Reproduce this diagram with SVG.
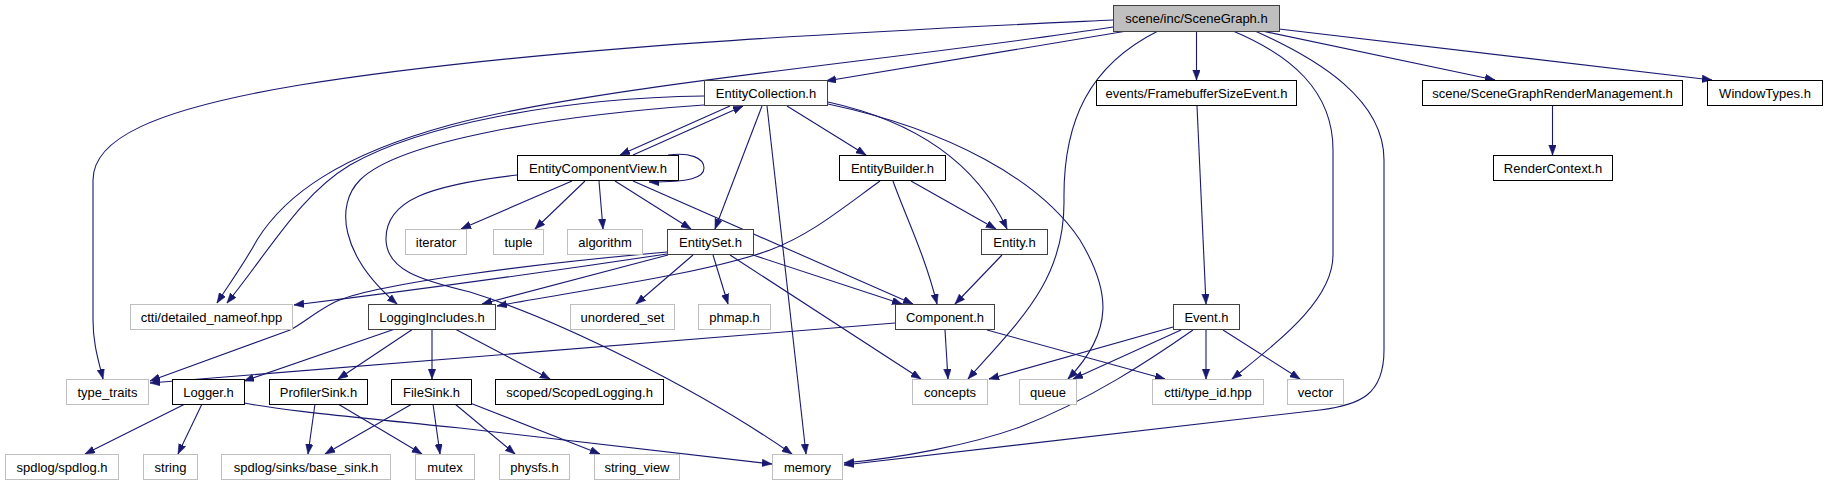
<svg xmlns="http://www.w3.org/2000/svg" width="1827" height="485" viewBox="0 0 1827 485">
<defs>
<style>
.n rect{fill:#fff;stroke:#000;stroke-width:1}
.n.g rect{stroke:#bfbfbf}
.n.d rect{stroke:#404040}
.n.r rect{fill:#bfbfbf;stroke:#404040}
.n text{font-family:"Liberation Sans",Arial,Helvetica,sans-serif;font-size:13px;fill:#000;text-anchor:middle}
#edges path{fill:none;stroke:#191970;stroke-width:1.1;marker-end:url(#ah)}
</style>
<marker id="ah" markerUnits="userSpaceOnUse" markerWidth="11" markerHeight="8" refX="10" refY="3.75" orient="auto">
<path d="M0,0 L10,3.75 L0,7.5 Z" fill="#191970" stroke="#191970" stroke-width="0.5"/>
</marker>
</defs>
<rect width="1827" height="485" fill="#fff"/>
<g id="edges">
<!-- SceneGraph.h -->
<path d="M1113,20 C900,30 550,45 300,85 C150,110 93,140 93,180 L93,320 C93,345 99,362 103,379"/>
<path d="M1113,27 C900,60 600,85 450,125 C340,155 285,195 257,240 C245,262 230,283 217,303"/>
<path d="M1127,31 L826,81"/>
<path d="M1158,31 C1090,65 1063,120 1064,200 C1065,280 1020,320 968,379"/>
<path d="M1196.5,31 L1196.5,80"/>
<path d="M1233,31 C1290,55 1333,90 1333,150 L1333,255 C1333,300 1280,340 1232,379"/>
<path d="M1255,31 C1320,60 1384,100 1384,160 L1384,350 C1384,395 1360,405 1320,410 L844,465"/>
<path d="M1262,31 L1495,80"/>
<path d="M1279,29 L1712,80"/>
<path d="M1197,106 L1206,304"/>
<path d="M1552.5,106 L1552.5,155"/>
<!-- EntityCollection.h -->
<path d="M730,106 L620,155"/>
<path d="M633,155 L743,106"/>
<path d="M762,106 L715,229"/>
<path d="M767,106 L806,454"/>
<path d="M787,106 L866,155"/>
<path d="M828,102 C910,120 975,160 1007,229"/>
<path d="M828,104 C950,130 1040,180 1080,240 C1110,290 1115,330 1068,379"/>
<path d="M704,96 C560,98 420,125 350,165 C300,195 270,250 227,303"/>
<path d="M704,105 C560,115 400,140 360,180 C335,205 340,255 397,304"/>
<!-- EntityComponentView.h -->
<path d="M517,175 C430,185 385,200 386,240 C387,270 420,280 470,292 C560,320 700,390 792,454"/>
<path d="M668,155 C690,152 704,158 704,168 C704,178 690,182 649,182"/>
<path d="M572,181 L461,229"/>
<path d="M585,181 L535,229"/>
<path d="M599,181 L603,229"/>
<path d="M615,181 L691,229"/>
<path d="M633,181 L913,304"/>
<!-- EntityBuilder.h -->
<path d="M911,181 L996,229"/>
<path d="M893,181 C905,215 925,255 937,304"/>
<path d="M880,181 C840,210 810,235 770,250 C700,275 580,290 497,306"/>
<!-- EntitySet.h -->
<path d="M667,252 C520,265 370,285 335,302 C315,312 305,322 290,330 L150,381"/>
<path d="M667,254 C560,270 400,292 294,305"/>
<path d="M668,255 L482,304"/>
<path d="M693,255 L636,304"/>
<path d="M713,255 L728,304"/>
<path d="M753,255 L902,304"/>
<path d="M730,255 L921,379"/>
<!-- Entity.h -->
<path d="M1002,255 L955,304"/>
<!-- Component.h -->
<path d="M895,323 L150,383"/>
<path d="M945,330 L948,379"/>
<path d="M987,330 L1165,379"/>
<!-- Event.h -->
<path d="M1173,327 L989,379"/>
<path d="M1181,330 L1073,379"/>
<path d="M1193,330 C1150,360 1090,400 1020,427 C970,445 900,458 844,463"/>
<path d="M1206,330 L1206,379"/>
<path d="M1223,330 L1300,379"/>
<!-- LoggingIncludes.h -->
<path d="M395,329 L244,381"/>
<path d="M413,329 L338,379"/>
<path d="M432,329 L432,379"/>
<path d="M455,329 L550,379"/>
<!-- Logger.h -->
<path d="M185,404 L85,454"/>
<path d="M202,404 L178,454"/>
<path d="M244,403 C270,408 300,412 460,428 L772,464"/>
<!-- ProfilerSink.h -->
<path d="M315,404 L308,454"/>
<path d="M338,404 L422,454"/>
<!-- FileSink.h -->
<path d="M412,404 L325,454"/>
<path d="M433,404 L440,454"/>
<path d="M455,404 L515,454"/>
<path d="M470,403 L600,454"/>
</g>
<g id="n-scenegraph" class="n r"><rect x="1113.5" y="5.5" width="166" height="26"/><text x="1196.5" y="23">scene/inc/SceneGraph.h</text></g>
<g id="n-entitycollection" class="n d"><rect x="704.5" y="80.5" width="123" height="25"/><text x="766" y="98">EntityCollection.h</text></g>
<g id="n-framebuffer" class="n"><rect x="1096.5" y="80.5" width="200" height="25"/><text x="1196.5" y="98">events/FramebufferSizeEvent.h</text></g>
<g id="n-sgrm" class="n"><rect x="1422.5" y="80.5" width="260" height="25"/><text x="1552.5" y="98">scene/SceneGraphRenderManagement.h</text></g>
<g id="n-windowtypes" class="n"><rect x="1707.5" y="80.5" width="115" height="25"/><text x="1765" y="98">WindowTypes.h</text></g>
<g id="n-ecv" class="n"><rect x="517.5" y="155.5" width="161" height="25"/><text x="598" y="173">EntityComponentView.h</text></g>
<g id="n-entitybuilder" class="n"><rect x="839.5" y="155.5" width="106" height="25"/><text x="892.5" y="173">EntityBuilder.h</text></g>
<g id="n-rendercontext" class="n"><rect x="1493.5" y="155.5" width="119" height="25"/><text x="1553" y="173">RenderContext.h</text></g>
<g id="n-iterator" class="n g"><rect x="405.5" y="229.5" width="61" height="25"/><text x="436" y="247">iterator</text></g>
<g id="n-tuple" class="n g"><rect x="493.5" y="229.5" width="50" height="25"/><text x="518.5" y="247">tuple</text></g>
<g id="n-algorithm" class="n g"><rect x="567.5" y="229.5" width="75" height="25"/><text x="605" y="247">algorithm</text></g>
<g id="n-entityset" class="n d"><rect x="667.5" y="229.5" width="86" height="25"/><text x="710.5" y="247">EntitySet.h</text></g>
<g id="n-entity" class="n d"><rect x="981.5" y="229.5" width="66" height="25"/><text x="1014.5" y="247">Entity.h</text></g>
<g id="n-detailednameof" class="n g"><rect x="130.5" y="304.5" width="162" height="25"/><text x="211.5" y="322">ctti/detailed_nameof.hpp</text></g>
<g id="n-loggingincludes" class="n d"><rect x="368.5" y="304.5" width="127" height="25"/><text x="432" y="322">LoggingIncludes.h</text></g>
<g id="n-unorderedset" class="n g"><rect x="570.5" y="304.5" width="104" height="25"/><text x="622.5" y="322">unordered_set</text></g>
<g id="n-phmap" class="n g"><rect x="698.5" y="304.5" width="72" height="25"/><text x="734.5" y="322">phmap.h</text></g>
<g id="n-component" class="n d"><rect x="895.5" y="304.5" width="99" height="25"/><text x="945" y="322">Component.h</text></g>
<g id="n-event" class="n d"><rect x="1173.5" y="304.5" width="66" height="25"/><text x="1206.5" y="322">Event.h</text></g>
<g id="n-typetraits" class="n g"><rect x="66.5" y="379.5" width="82" height="25"/><text x="107.5" y="397">type_traits</text></g>
<g id="n-logger" class="n"><rect x="172.5" y="379.5" width="72" height="25"/><text x="208.5" y="397">Logger.h</text></g>
<g id="n-profilersink" class="n"><rect x="269.5" y="379.5" width="98" height="25"/><text x="318.5" y="397">ProfilerSink.h</text></g>
<g id="n-filesink" class="n"><rect x="391.5" y="379.5" width="80" height="25"/><text x="431.5" y="397">FileSink.h</text></g>
<g id="n-scopedlogging" class="n"><rect x="495.5" y="379.5" width="168" height="25"/><text x="579.5" y="397">scoped/ScopedLogging.h</text></g>
<g id="n-concepts" class="n g"><rect x="912.5" y="379.5" width="75" height="25"/><text x="950" y="397">concepts</text></g>
<g id="n-queue" class="n g"><rect x="1019.5" y="379.5" width="57" height="25"/><text x="1048" y="397">queue</text></g>
<g id="n-typeid" class="n g"><rect x="1152.5" y="379.5" width="111" height="25"/><text x="1208" y="397">ctti/type_id.hpp</text></g>
<g id="n-vector" class="n g"><rect x="1287.5" y="379.5" width="56" height="25"/><text x="1315.5" y="397">vector</text></g>
<g id="n-spdlog" class="n g"><rect x="5.5" y="454.5" width="113" height="25"/><text x="62" y="472">spdlog/spdlog.h</text></g>
<g id="n-string" class="n g"><rect x="143.5" y="454.5" width="54" height="25"/><text x="170.5" y="472">string</text></g>
<g id="n-basesink" class="n g"><rect x="221.5" y="454.5" width="169" height="25"/><text x="306" y="472">spdlog/sinks/base_sink.h</text></g>
<g id="n-mutex" class="n g"><rect x="415.5" y="454.5" width="59" height="25"/><text x="445" y="472">mutex</text></g>
<g id="n-physfs" class="n g"><rect x="499.5" y="454.5" width="70" height="25"/><text x="534.5" y="472">physfs.h</text></g>
<g id="n-stringview" class="n g"><rect x="594.5" y="454.5" width="85" height="25"/><text x="637" y="472">string_view</text></g>
<g id="n-memory" class="n g"><rect x="772.5" y="454.5" width="70" height="25"/><text x="807.5" y="472">memory</text></g>
</svg>
